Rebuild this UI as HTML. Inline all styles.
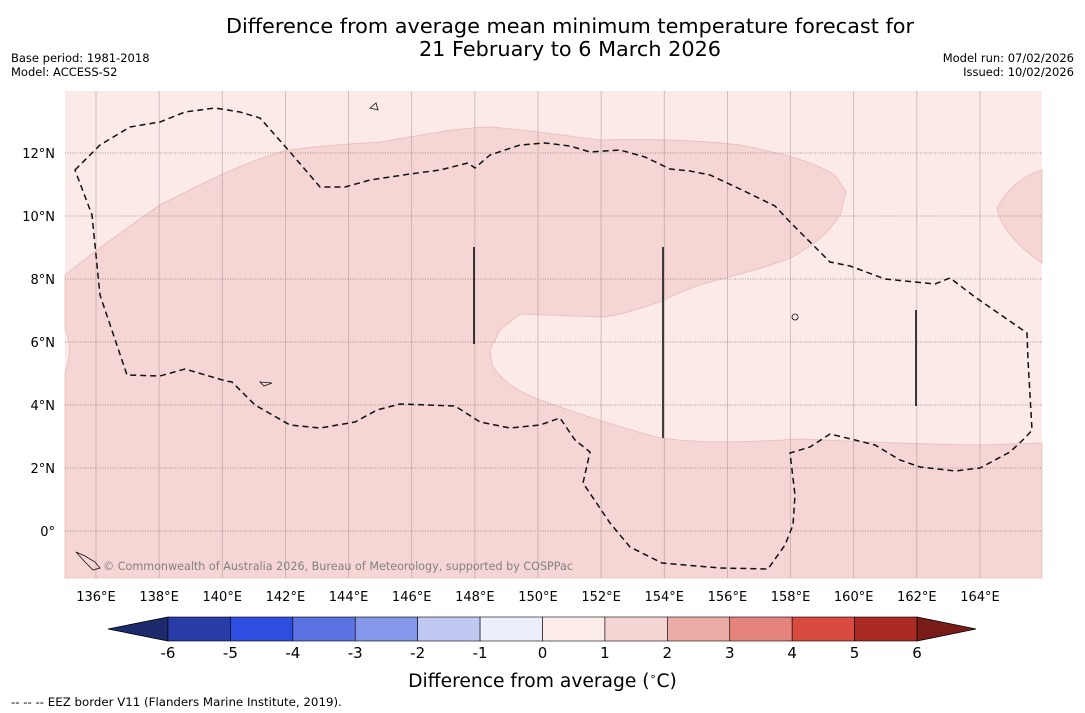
<!DOCTYPE html>
<html><head><meta charset="utf-8">
<style>
html,body{margin:0;padding:0;background:#fff;width:1085px;height:713px;overflow:hidden;font-family:"DejaVu Sans","Liberation Sans",sans-serif;}
.t{position:absolute;white-space:nowrap;color:#000;}
</style></head><body>
<div class="t" style="left:0;width:1140px;top:15px;text-align:center;font-size:20.8px;line-height:23px;">Difference from average mean minimum temperature forecast for<br>21 February to 6 March 2026</div>
<div class="t" style="left:11px;top:51px;font-size:11.5px;line-height:14px;">Base period: 1981-2018<br>Model: ACCESS-S2</div>
<div class="t" style="right:11px;top:51px;font-size:11.5px;line-height:14px;text-align:right;">Model run: 07/02/2026<br>Issued: 10/02/2026</div>
<svg id="chart" width="1085" height="713" style="position:absolute;left:0;top:0" xmlns="http://www.w3.org/2000/svg"></svg>
<div class="t" style="left:0;width:1085px;top:670px;text-align:center;font-size:18.7px;">Difference from average (<sup style="font-size:11px">∘</sup>C)</div>
<div class="t" style="left:11px;top:695px;font-size:11.8px;">--  --  -- EEZ border V11 (Flanders Marine Institute, 2019).</div>
<script>
const lonTicks=[136,138,140,142,144,146,148,150,152,154,156,158,160,162,164];
const latTicks=[0,2,4,6,8,10,12];
const cbTicks=[-6,-5,-4,-3,-2,-1,0,1,2,3,4,5,6];
const cbColors=["#2a3ca8","#2d4ee0","#5a72e2","#8597ea","#c1c9f3","#ebeefb","#fcecea","#f5d5d3","#ebaba6","#e5847d","#d94b40","#aa2a24"];
const NS="http://www.w3.org/2000/svg";
const svg=document.getElementById('chart');
const X0=65,X1=1042,Y0=91,Y1=578;
const lonX=l=>96+(l-136)*31.57;
const latY=l=>531-l*31.5;
function mk(t,a,p){const e=document.createElementNS(NS,t);for(const k in a)e.setAttribute(k,a[k]);(p||svg).appendChild(e);return e;}
const bg=mk('rect',{x:X0,y:Y0,width:X1-X0,height:Y1-Y0,fill:'#fbeae8'});


const main=mk('path',{fill:'#f5d6d4',stroke:'#e8bcba','stroke-width':0.8,d:'M65,275 C90,255 110,240 160,205 C200,185 230,168 280,152 C310,146 350,144 380,142 C420,136 450,128 490,127 C530,130 560,135 600,140 C640,139 690,139 740,145 C780,153 810,160 835,175 L846,192 L840,215 C830,230 820,242 790,258 C760,270 730,276 700,285 C680,292 670,297 660,302 C640,308 620,316 600,317 L520,314 L500,330 L490,350 L492,365 C500,378 510,388 540,400 C570,410 600,422 660,438 C700,443 730,443 800,439 C850,441 900,444 980,445 L1042,443 L1042,578 L65,578 L65,372 C72,355 70,340 65,330 Z'});


const rb=mk('path',{fill:'#f5d6d4',stroke:'#e8bcba','stroke-width':0.8,d:'M1042,170 C1025,175 1010,185 997,208 C1000,225 1015,245 1042,263 Z'});


lonTicks.concat([166]).forEach(l=>{const x=lonX(l);if(x>X1)return;
 const g=mk('line',{x1:x,x2:x,y1:Y0,y2:Y1,stroke:'#a09090','stroke-width':0.8,'stroke-opacity':0.6});
 
 
 const tx=mk('text',{x:x,y:601,'text-anchor':'middle','font-size':13});tx.textContent=l+'°E';
 
 });
latTicks.forEach(l=>{const y=latY(l);
 const g=mk('line',{x1:X0,x2:X1,y1:y,y2:y,stroke:'#887878','stroke-width':0.8,'stroke-dasharray':'1,1.5'});
 
 
 const tx=mk('text',{x:55,y:y+5,'text-anchor':'end','font-size':13});tx.textContent=l===0?'0°':l+'°N';
 
 });
const eez=mk('path',{fill:'none',stroke:'#111','stroke-width':1.5,'stroke-dasharray':'6,4',d:'M75,170 L100,145 L130,127 L160,122 L185,112 L215,108 L240,112 L260,118 L290,152 L320,187 L345,187 L370,180 L410,174 L440,170 L468,163 L475,168 L490,155 L520,145 L545,143 L570,146 L590,152 L620,150 L645,157 L670,169 L690,171 L710,175 L740,189 L775,206 L790,222 L830,262 L850,266 L885,279 L915,282 L935,284 L950,278 L975,297 L1027,333 L1028,360 L1032,430 L1026,437 L1010,452 L980,468 L955,471 L920,467 L900,460 L875,445 L855,440 L830,434 L810,447 L790,453 L795,495 L793,525 L785,545 L768,569 L720,568 L662,563 L630,547 L610,523 L583,483 L590,452 L575,440 L560,418 L540,425 L510,428 L480,422 L455,406 L400,404 L377,410 L355,422 L320,428 L290,425 L255,405 L232,382 L226,381 L185,369 L160,376 L127,375 L100,295 L92,215 Z'});


[[474,247,344],[663,247,438],[916,310,406]].forEach(v=>{const l=mk('line',{x1:v[0],x2:v[0],y1:v[1],y2:v[2],stroke:'#111','stroke-width':1.6});
 
 });
const isl=mk('path',{fill:'none',stroke:'#111','stroke-width':0.8,d:'M76,552 L85,556 L95,562 L100,568 L93,570 L85,562 Z M260,382 L272,383 L264,386 Z M370,108 L376,103 L378,110 Z M795,314 a3,3 0 1,0 0.1,0'});


const cp=mk('text',{x:103,y:570,'font-size':11.5,fill:'#777','fill-opacity':0.9,textLength:470,lengthAdjust:'spacingAndGlyphs'});cp.textContent='© Commonwealth of Australia 2026, Bureau of Meteorology, supported by COSPPac';


const cbL=168,cbR=917,cbT=617,cbB=641,bw=(cbR-cbL)/cbColors.length;
const cbX=v=>cbL+(v-cbTicks[0])*bw;
const lt=mk('polygon',{points:`${cbL},${cbT} 108,${(cbT+cbB)/2} ${cbL},${cbB}`,fill:'#1e2a6e',stroke:'#000','stroke-width':0.8});


const rt=mk('polygon',{points:`${cbR},${cbT} 976,${(cbT+cbB)/2} ${cbR},${cbB}`,fill:'#7a1c18',stroke:'#000','stroke-width':0.8});


cbColors.forEach((c,i)=>{const r=mk('rect',{x:cbX(cbTicks[i]),y:cbT,width:bw,height:cbB-cbT,fill:c,stroke:'#000','stroke-width':0.6});
 
 });
cbTicks.forEach(v=>{const t=mk('text',{x:cbX(v),y:658,'text-anchor':'middle','font-size':15});t.textContent=v;
 
 });
</script>
</body></html>
